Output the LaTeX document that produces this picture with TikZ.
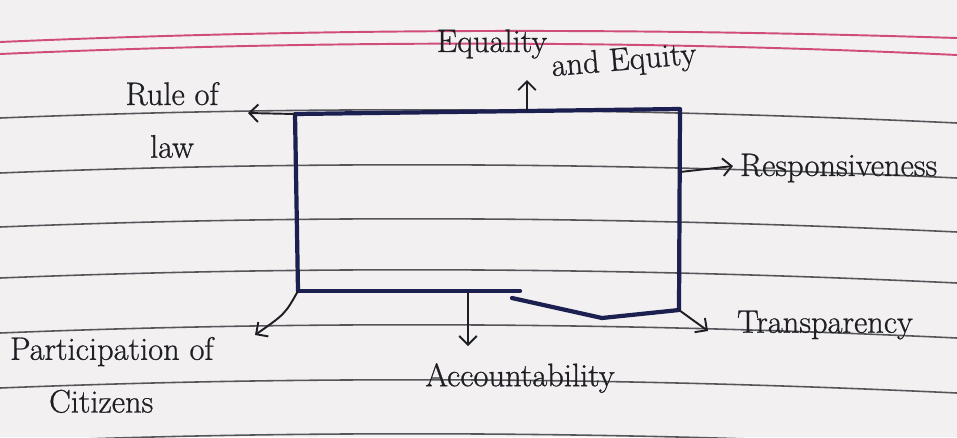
\documentclass[tikz,border=0pt]{standalone}
\usepackage{fontspec}
\newfontfamily\handfont[FakeBold=0.8]{Latin Modern Roman}
\usetikzlibrary{arrows.meta,positioning,calc}
\definecolor{paper}{HTML}{F2F0F1}
\definecolor{ink}{HTML}{1B2050}
\definecolor{pencil}{HTML}{1E1E24}
\definecolor{ruling}{HTML}{55555A}
\definecolor{margin}{HTML}{D04C7A}

\begin{document}
\begin{tikzpicture}[x=0.02cm,y=-0.02cm,
 lbl/.style={text=pencil,inner sep=1pt,font=\handfont\fontsize{18.5}{30}\selectfont},
 arr/.style={draw=pencil,line width=1.1pt,-{Straight Barb[length=5pt,width=10pt]}},
 boxline/.style={draw=ink,line width=2.4pt,line join=round,line cap=round}]
\useasboundingbox[fill=paper] (0,0) rectangle (957,437);
% ruled page
\foreach \y in {118,173,227,278,333,388,442}
 \draw[ruling,line width=0.9pt] (0,\y) .. controls (320,\y-13) and (640,\y-10) .. (957,\y+5);
\foreach \y/\r in {42/38,54/55}
 \draw[margin,line width=1.1pt] (0,\y) .. controls (320,\y-14) and (640,\y-14) .. (957,\r);

% the box
\coordinate (tl) at (295,114);
\coordinate (tr) at (680,109);
\coordinate (br) at (679,310);
\coordinate (bl) at (298,291);
\draw[boxline] (bl) -- (tl) -- (tr) -- (br) -- (602,318) -- (512,298);
\draw[boxline] (bl) -- (520,291);
\coordinate (topmid) at (527,111);
\coordinate (rightmid) at (680,172);
\coordinate (botmid) at (468,292);

% labels
\node[lbl,align=center] (law) at (172,120) {Rule of\\law};
\node[lbl] (equal) at (492,44) {Equality};
\node[lbl,rotate=5] (equity) at (624,62) {and Equity};
\node[lbl,anchor=west] (resp) at (738,168) {Responsiveness};
\node[lbl,anchor=west] (trans) at (735,325) {Transparency};
\node[lbl] (acc) at (520,378) {Accountability};
\node[lbl,align=left,anchor=west] (part) at (8,375) {Participation of\\\hspace*{1.2em}Citizens};

% arrow ends
\coordinate (lawtip) at (248,113);
\coordinate (eqtip) at (527,80);
\coordinate (resptip) at (733,166);
\coordinate (transtip) at (708,331);
\coordinate (acctip) at (468,346);
\coordinate (parttip) at (255,335);

\draw[arr] (tl) -- (lawtip);
\draw[arr] (topmid) -- (eqtip);
\draw[arr] (rightmid) -- (resptip);
\draw[arr] (br) -- (transtip);
\draw[arr] (botmid) -- (acctip);
\draw[arr] (bl) .. controls (285,314) .. (parttip);
\end{tikzpicture}
\end{document}
